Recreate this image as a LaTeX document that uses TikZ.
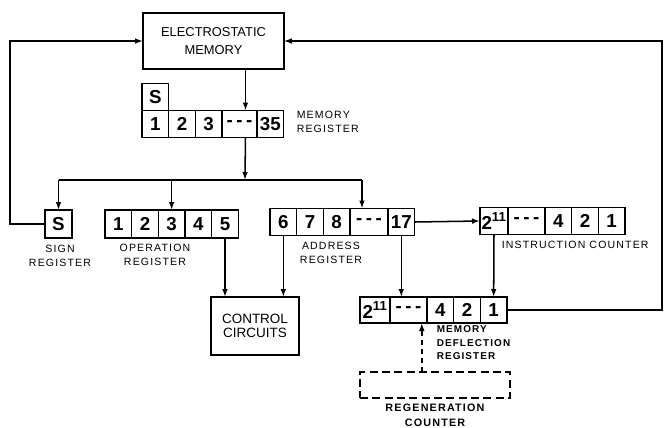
\documentclass[tikz,border=0pt]{standalone}
\usepackage{fontspec}
\setmainfont{Liberation Sans}
\newfontfamily\lblfont[LetterSpace=11]{Liberation Sans}
\usepackage{tikz}
\usetikzlibrary{arrows.meta, positioning}

\begin{document}
\begin{tikzpicture}[x=0.3mm, y=-0.3mm, line width=1.3pt, >={Latex[length=2.4mm,width=1.7mm]}]
  \tikzstyle{blk}=[rectangle, draw, inner sep=0pt, outer sep=0pt, align=center,
                   font=\fontsize{11}{15}\selectfont]
  \tikzstyle{regbit}=[rectangle, draw, inner sep=0pt, outer sep=0pt, minimum width=8mm,
                      minimum height=8.1mm, font=\fontsize{16}{16}\selectfont\bfseries]
  \tikzstyle{regdots}=[regbit, minimum width=11.1mm]
  \tikzstyle{lbl}=[inner sep=0pt, align=center, font=\lblfont\fontsize{9}{12.5}\selectfont]
  \tikzstyle{arr}=[->]
  \newcommand{\dashes}{-\hspace{3pt}-\hspace{3pt}-}
  \useasboundingbox (0,0) rectangle (664,427);

  % memory and memory register
  \node[blk, minimum width=42.3mm, minimum height=16.8mm](em) at (213.5,41){ELECTROSTATIC\\MEMORY};
  \node[regbit](m1) at (155.3,124){1};
  \node[regbit, right=0pt of m1](m2){2};
  \node[regbit, right=0pt of m2](m3){3};
  \node[regdots, minimum width=10.5mm, right=0pt of m3](mdots){\dashes};
  \node[regbit, right=0pt of mdots](m35){35};
  \node[regbit, above=0pt of m1](mS){S};
  \node[lbl, align=left, anchor=west](mlbl) at (296,122){MEMORY\\REGISTER};

  % sign and operation registers
  \node[regbit, minimum height=8.4mm](sS) at (58.5,224){S};
  \node[lbl](slbl) at (60,256){SIGN\\REGISTER};
  \node[regbit, minimum height=8.4mm](o1) at (118.3,224){1};
  \node[regbit, minimum height=8.4mm, right=0pt of o1](o2){2};
  \node[regbit, minimum height=8.4mm, right=0pt of o2](o3){3};
  \node[regbit, minimum height=8.4mm, right=0pt of o3](o4){4};
  \node[regbit, minimum height=8.4mm, right=0pt of o4](o5){5};
  \node[lbl](olbl) at (155,255){OPERATION\\REGISTER};

  % address register and instruction counter
  \node[regbit](a6) at (283.3,222){6};
  \node[regbit, right=0pt of a6](a7){7};
  \node[regbit, right=0pt of a7](a8){8};
  \node[regdots, minimum width=11.4mm, right=0pt of a8](adots){\dashes};
  \node[regbit, right=0pt of adots](a17){17};
  \node[lbl](albl) at (331,253){ADDRESS\\REGISTER};
  \node[regbit, minimum width=8.4mm](i11) at (494,221){2\textsuperscript{11}};
  \node[regdots, right=0pt of i11](idots){\dashes};
  \node[regbit, right=0pt of idots](i4){4};
  \node[regbit, right=0pt of i4](i2){2};
  \node[regbit, right=0pt of i2](i1){1};
  \node[lbl, anchor=west](ilbl) at (501,245){INSTRUCTION COUNTER};

  % control circuits, deflection register, regeneration counter
  \node[blk, minimum width=26.4mm, minimum height=17.4mm, font=\fontsize{11.5}{12.5}\selectfont](cc) at (255,326){CONTROL\\CIRCUITS};
  \node[regbit, minimum width=9mm, minimum height=7.8mm](r11) at (375,310){2\textsuperscript{11}};
  \node[regdots, minimum height=7.8mm, right=0pt of r11](rdots){\dashes};
  \node[regbit, minimum height=7.8mm, right=0pt of rdots](r4){4};
  \node[regbit, minimum height=7.8mm, right=0pt of r4](r2){2};
  \node[regbit, minimum height=7.8mm, right=0pt of r2](r1){1};
  \node[lbl, align=left, anchor=west, font=\lblfont\fontsize{8.5}{11.5}\selectfont\bfseries](rlbl) at (436,343){MEMORY\\DEFLECTION\\REGISTER};
  \node[blk, dashed, dash pattern=on 2.4mm off 1.3mm, minimum width=45mm, minimum height=7.8mm](rc) at (435,385){};
  \node[lbl, font=\lblfont\fontsize{9.2}{13}\selectfont\bfseries](rclbl) at (435,415){REGENERATION\\COUNTER};

  % connectors
  \coordinate(bus) at (245,180);
  \coordinate(mtop) at ([xshift=1.8mm]mdots.north);
  \coordinate(atop) at ([xshift=-2.1mm]adots.north);
  \coordinate(busL) at (sS |- bus);
  \coordinate(busR) at (atop |- bus);
  \coordinate(rtap) at ([xshift=4mm]rdots.south);
  \coordinate(lside) at (10,0);
  \coordinate(rside) at (662,0);
  \draw[arr](em.south -| mtop)--(mtop);
  \draw[arr](mdots.south -| mtop)--(bus);
  \draw(busL)--(busR);
  \draw[arr](busL)--(sS.north);
  \draw[arr](o3.north |- bus)--(o3.north);
  \draw[arr](busR)--(atop);
  \draw[arr](a17.east)--(i11.west);
  \draw[arr](o5.south)--(o5.south |- cc.north);
  \draw[arr](a6.south)--(a6.south |- cc.north);
  \draw[arr](a17.south)--(a17.south |- rdots.north);
  \draw[arr](i11.south)--(r1.north);
  \draw[arr, dashed, dash pattern=on 1.6mm off 1.1mm](rtap |- rc.north)--(rtap);
  \draw[arr](sS.west) -| (lside |- em.west)--(em.west);
  \draw[arr, line width=0.9pt](r1.east) -| (rside |- em.east)--(em.east);
\end{tikzpicture}
\end{document}
